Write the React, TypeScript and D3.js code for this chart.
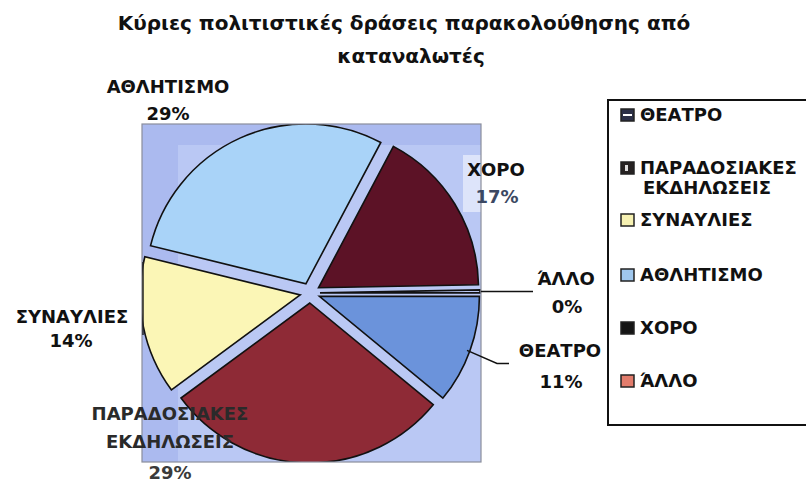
import React from "react";
import * as d3 from "d3";

const categories = ["ΘΕΑΤΡΟ", "ΠΑΡΑΔΟΣΙΑΚΕΣ ΕΚΔΗΛΩΣΕΙΣ", "ΣΥΝΑΥΛΙΕΣ", "ΑΘΛΗΤΙΣΜΟ", "ΧΟΡΟ", "ΆΛΛΟ"];
const values = [11, 29, 14, 29, 17, 0.3];
const percentLabels = ["11%", "29%", "14%", "29%", "17%", "0%"];
const titleLines = ["Κύριες πολιτιστικές δράσεις παρακολούθησης από", "καταναλωτές"];

const sliceColors = ["#6b93db", "#8e2a36", "#fbf6b6", "#a9d3f8", "#5c1226", "#b8c6f2"];
const legendSwatch = ["#2c3048", "#262222", "#f6f1b2", "#9fc7ee", "#151515", "#e27c6c"];

const FONT = "'DejaVu Sans', Verdana, sans-serif";

// label layout (center x, first baseline y, lines)
const labelLayout = [
  { x: 560, y: 357, lines: ["ΘΕΑΤΡΟ"], color: "#111" },
  { x: 170, y: 420, lines: ["ΠΑΡΑΔΟΣΙΑΚΕΣ", "ΕΚΔΗΛΩΣΕΙΣ"], color: "#2a2a2a" },
  { x: 72, y: 323, lines: ["ΣΥΝΑΥΛΙΕΣ"], color: "#111" },
  { x: 168, y: 93, lines: ["ΑΘΛΗΤΙΣΜΟ"], color: "#111" },
  { x: 496, y: 176, lines: ["ΧΟΡΟ"], color: "#111" },
  { x: 566, y: 285, lines: ["ΆΛΛΟ"], color: "#111" },
];
const pctLayout = [
  { x: 561, y: 388, color: "#111" },
  { x: 170, y: 479, color: "#3a3a3a" },
  { x: 71, y: 347, color: "#111" },
  { x: 168, y: 120, color: "#111" },
  { x: 497, y: 203, color: "#3c4862" },
  { x: 567, y: 313, color: "#111" },
];
const legendRows = [
  { lines: ["ΘΕΑΤΡΟ"], y: 121 },
  { lines: ["ΠΑΡΑΔΟΣΙΑΚΕΣ", "ΕΚΔΗΛΩΣΕΙΣ"], y: 174 },
  { lines: ["ΣΥΝΑΥΛΙΕΣ"], y: 226 },
  { lines: ["ΑΘΛΗΤΙΣΜΟ"], y: 281 },
  { lines: ["ΧΟΡΟ"], y: 334 },
  { lines: ["ΆΛΛΟ"], y: 387 },
];

export default function App() {
  const W = 806, H = 482;
  const plot = { x0: 142, y0: 124, x1: 481, y1: 462 };
  const cx = 310, cy = 293, r = 160, explode = 10;
  const fs = 18;

  const pie = d3
    .pie<number>()
    .sort(null)
    .value((d) => d)
    .startAngle(Math.PI / 2)
    .endAngle(Math.PI / 2 + 2 * Math.PI);
  const arcs = pie(values);
  const arcGen = d3.arc<d3.PieArcDatum<number>>().innerRadius(0).outerRadius(r);

  const off = (a: d3.PieArcDatum<number>) => {
    const m = (a.startAngle + a.endAngle) / 2;
    return [Math.sin(m) * explode, -Math.cos(m) * explode];
  };
  const arcPoint = (a: d3.PieArcDatum<number>) => {
    const m = (a.startAngle + a.endAngle) / 2;
    const [ox, oy] = off(a);
    return [cx + ox + Math.sin(m) * r, cy + oy - Math.cos(m) * r];
  };

  const theatro = arcPoint(arcs[0]);
  const allo = arcPoint(arcs[5]);

  return (
    <svg
      width={W}
      height={H}
      style={{ position: "absolute", left: 0, top: 0, display: "block", background: "#fff" }}
      fontFamily={FONT}
    >
      <defs>
        <clipPath id="plotClip">
          <rect x={plot.x0} y={plot.y0} width={plot.x1 - plot.x0} height={plot.y1 - plot.y0} />
        </clipPath>
      </defs>
      <rect width={W} height={H} fill="#fff" />

      {/* title */}
      <text x={404} y={30} textAnchor="middle" fontSize={20} fontWeight="bold" fill="#111">
        {titleLines[0]}
      </text>
      <text x={411} y={63} textAnchor="middle" fontSize={20} fontWeight="bold" fill="#111">
        {titleLines[1]}
      </text>

      {/* plot area */}
      <rect x={plot.x0} y={plot.y0} width={plot.x1 - plot.x0} height={plot.y1 - plot.y0} fill="#abbaef" />
      <rect x={178} y={145} width={plot.x1 - 178} height={plot.y1 - 145} fill="#bac8f4" />
      <rect x={463} y={155} width={18} height={57} fill="#dde4fa" />

      <g clipPath="url(#plotClip)">
        {arcs.map((a, i) => {
          const [ox, oy] = off(a);
          return (
            <path
              key={i}
              d={arcGen(a) || ""}
              transform={`translate(${cx + ox},${cy + oy})`}
              fill={sliceColors[i]}
              stroke="#111"
              strokeWidth={1.6}
              strokeLinejoin="miter"
            />
          );
        })}
      </g>
      <rect
        x={plot.x0}
        y={plot.y0}
        width={plot.x1 - plot.x0}
        height={plot.y1 - plot.y0}
        fill="none"
        stroke="#8a8e9c"
        strokeWidth={1.2}
      />
      <line x1={143} y1={262} x2={143} y2={335} stroke="#222" strokeWidth={1.5} />

      {/* leader lines */}
      <polyline
        points={`${theatro[0] - 3},${theatro[1]} ${theatro[0] + 27},${theatro[1] + 13} ${theatro[0] + 39},${theatro[1] + 13}`}
        fill="none"
        stroke="#111"
        strokeWidth={1.5}
      />
      <line x1={plot.x1} y1={allo[1]} x2={533} y2={allo[1]} stroke="#111" strokeWidth={1.5} />

      {/* data labels */}
      {labelLayout.map((l, i) => (
        <text key={"l" + i} textAnchor="middle" fontSize={fs} fontWeight="bold" fill={l.color}>
          {l.lines.map((t, j) => (
            <tspan key={j} x={l.x} y={l.y + j * 28}>
              {t}
            </tspan>
          ))}
        </text>
      ))}
      {pctLayout.map((p, i) => (
        <text key={"p" + i} x={p.x} y={p.y} textAnchor="middle" fontSize={fs} fontWeight="bold" fill={p.color}>
          {percentLabels[i]}
        </text>
      ))}

      {/* legend */}
      <rect x={608} y={100} width={210} height={325} fill="#fff" stroke="#111" strokeWidth={2} />
      {legendRows.map((row, i) => (
        <g key={"lg" + i}>
          <rect x={621} y={row.y - 12} width={13} height={12} fill={legendSwatch[i]} stroke="#222" strokeWidth={1.5} />
          {i === 0 && <line x1={623} y1={row.y - 6} x2={632} y2={row.y - 6} stroke="#fff" strokeWidth={2} />}
          {i === 1 && <rect x={625} y={row.y - 9} width={3} height={6} fill="#ddd" />}
          <text fontSize={fs} fontWeight="bold" fill="#111">
            {row.lines.map((t, j) => (
              <tspan key={j} x={j === 0 ? 640 : 643} y={row.y + j * 20}>
                {t}
              </tspan>
            ))}
          </text>
        </g>
      ))}
    </svg>
  );
}
